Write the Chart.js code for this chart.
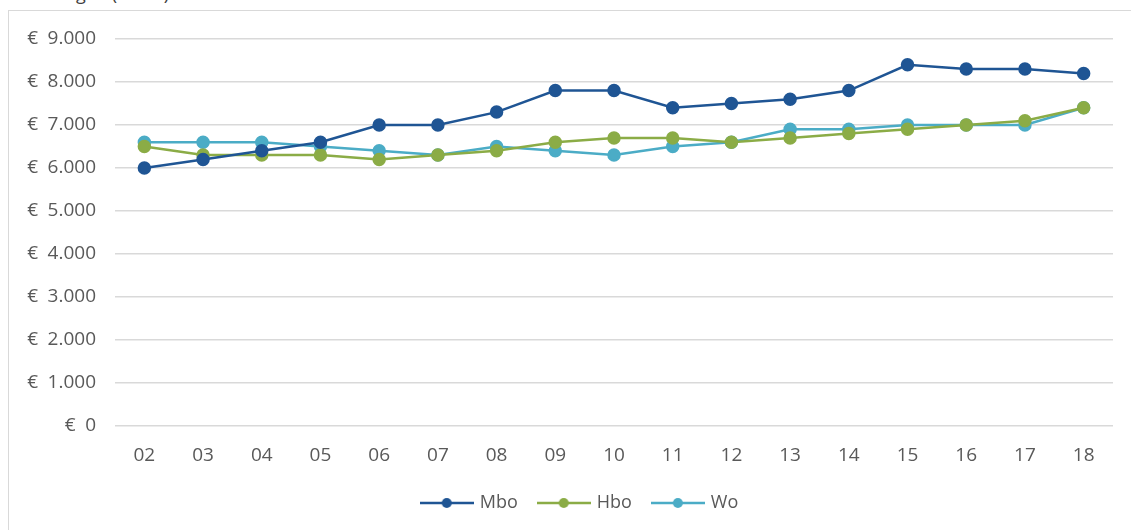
<!DOCTYPE html>
<html>
<head>
<meta charset="utf-8">
<script src="https://cdn.jsdelivr.net/npm/chart.js@4/dist/chart.umd.min.js"></script>
<style>
    html, body { margin: 0; padding: 0; background: #fff; overflow: hidden; }
    #frame {
        position: absolute; left: 8px; top: 10px;
        width: 1200px; height: 600px;
        border: 1.5px solid #d9d9d9;
    }
    #title {
        position: absolute; left: 26px; top: -19px;
        font: 18px "Open Sans", sans-serif; color: #404040;
    }
    #wrap { position: absolute; left: 0; top: 0; width: 1131px; height: 530px; }
</style>
</head>
<body>
<div id="title">Bedragen (bruto)</div>
<div id="frame"></div>
<div id="wrap"><canvas id="chart"></canvas></div>
<script>
const years = ['02', '03', '04', '05', '06', '07', '08', '09', '10', '11', '12', '13', '14', '15', '16', '17', '18'];
const mbo = [6000, 6200, 6400, 6600, 7000, 7000, 7300, 7800, 7800, 7400, 7500, 7600, 7800, 8400, 8300, 8300, 8200];
const hbo = [6500, 6300, 6300, 6300, 6200, 6300, 6400, 6600, 6700, 6700, 6600, 6700, 6800, 6900, 7000, 7100, 7400];
const wo = [6600, 6600, 6600, 6500, 6400, 6300, 6500, 6400, 6300, 6500, 6600, 6900, 6900, 7000, 7000, 7000, 7400];
const yTicks = [0, 1000, 2000, 3000, 4000, 5000, 6000, 7000, 8000, 9000];

const fontFamily = '"Open Sans", sans-serif';
const textColor = '#595959';

// legend marker: short line with a dot in the middle
function legendMarker(color) {
    const c = document.createElement('canvas');
    c.width = 54;
    c.height = 12;
    const g = c.getContext('2d');
    g.strokeStyle = color;
    g.lineWidth = 2.5;
    g.beginPath();
    g.moveTo(0, 6);
    g.lineTo(54, 6);
    g.stroke();
    g.fillStyle = color;
    g.beginPath();
    g.arc(27, 6, 5, 0, Math.PI * 2);
    g.fill();
    return c;
}

function series(label, values, color) {
    return {
        label: label,
        data: values,
        borderColor: color,
        backgroundColor: color,
        pointBackgroundColor: color,
        pointBorderColor: color,
        borderWidth: 2.5,
        pointRadius: 5.5,
        pointHoverRadius: 5.5,
        tension: 0,
        fill: false,
        marker: legendMarker(color)
    };
}

// the legend sits a little right of the page centre in the original
const legendShift = {
    id: 'legendShift',
    afterLayout(chart) {
        if (chart.legend) {
            chart.legend.left += 24;
            chart.legend.right += 24;
        }
    }
};

const ctx = document.getElementById('chart').getContext('2d');
new Chart(ctx, {
    type: 'line',
    data: {
        labels: years,
        datasets: [
            series('Mbo', mbo, '#1f5594'),
            series('Hbo', hbo, '#8bac46'),
            series('Wo', wo, '#4bacc6')
        ]
    },
    plugins: [legendShift],
    options: {
        responsive: true,
        maintainAspectRatio: false,
        animation: false,
        layout: { padding: { left: 0, right: 18, top: 39, bottom: 8 } },
        plugins: {
            tooltip: { enabled: false },
            legend: {
                position: 'bottom',
                labels: {
                    usePointStyle: true,
                    pointStyleWidth: 48,
                    padding: 22,
                    color: textColor,
                    font: { size: 18, family: fontFamily },
                    generateLabels(chart) {
                        return chart.data.datasets.map((ds, i) => ({
                            text: ds.label,
                            pointStyle: ds.marker,
                            fillStyle: ds.borderColor,
                            strokeStyle: ds.borderColor,
                            fontColor: textColor,
                            lineWidth: 0,
                            hidden: false,
                            datasetIndex: i
                        }));
                    }
                }
            }
        },
        scales: {
            x: {
                offset: true,
                grid: { display: false, drawTicks: false },
                border: { display: false },
                ticks: {
                    color: textColor,
                    padding: 18,
                    maxRotation: 0,
                    font: { size: 19, family: fontFamily }
                },
                afterFit(scale) { scale.height = 46; }
            },
            y: {
                min: 0,
                max: 9000,
                grid: { color: '#d9d9d9', lineWidth: 1.5, drawTicks: false },
                border: { display: false },
                afterBuildTicks(scale) {
                    scale.ticks = yTicks.map(v => ({ value: v }));
                },
                ticks: {
                    color: textColor,
                    padding: 19,
                    font: { size: 19, family: fontFamily },
                    callback(value) {
                        return '€\u2002' + value.toLocaleString('nl-NL');
                    }
                },
                afterFit(scale) { scale.width = 115; }
            }
        }
    }
});
</script>
</body>
</html>
